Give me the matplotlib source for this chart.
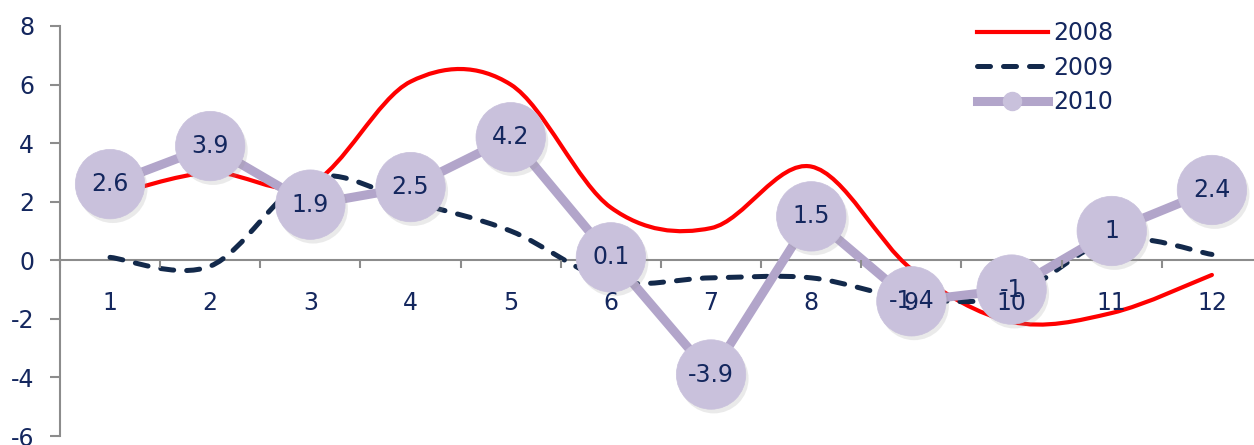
import numpy as np
import matplotlib
matplotlib.use('Agg')
import matplotlib.pyplot as plt
from matplotlib.path import Path
from matplotlib.patches import PathPatch
from matplotlib.lines import Line2D
from matplotlib.ticker import FixedLocator, NullFormatter, FixedFormatter
import matplotlib.patheffects as pe

months = [1, 2, 3, 4, 5, 6, 7, 8, 9, 10, 11, 12]
s2008 = [2.2, 3.0, 2.6, 6.1, 6.0, 1.8, 1.1, 3.2, -0.3, -2.1, -1.8, -0.5]
s2009 = [0.1, -0.2, 2.8, 2.0, 1.0, -0.7, -0.6, -0.6, -1.3, -1.2, 0.7, 0.2]
s2010 = [2.6, 3.9, 1.9, 2.5, 4.2, 0.1, -3.9, 1.5, -1.4, -1, 1, 2.4]
yticks = [-6, -4, -2, 0, 2, 4, 6, 8]

NAVY = '#14275E'
RED = '#FF0000'
DASH = '#13294B'
LAV_LINE = '#B2A5CA'
LAV_FILL = '#C9C1DC'
GRAY = '#8C8C8C'


def smooth_path(x, y):
    # excel-like smoothed line: cubic bezier through the points
    p = np.column_stack([x, y]).astype(float)
    n = len(p)
    verts = [p[0]]
    codes = [Path.MOVETO]
    for i in range(n - 1):
        p0 = p[i - 1] if i > 0 else p[i]
        p1 = p[i]
        p2 = p[i + 1]
        p3 = p[i + 2] if i + 2 < n else p[i + 1]
        verts += [p1 + (p2 - p0) / 6, p2 - (p3 - p1) / 6, p2]
        codes += [Path.CURVE4] * 3
    return Path(verts, codes)


fig = plt.figure(figsize=(12.54, 4.45), dpi=100)
ax = fig.add_axes([0.0478, 0.0202, 0.9522, 0.9214])

ax.add_patch(PathPatch(smooth_path(months, s2008), fill=False, edgecolor=RED,
                       lw=3.0, zorder=2.6, capstyle='round'))
ax.add_patch(PathPatch(smooth_path(months, s2009), fill=False, edgecolor=DASH,
                       lw=3.6, ls=(0, (2.6, 2.6)), zorder=2.7, capstyle='round'))
ax.plot(months, s2010, color=LAV_LINE, lw=6.5, zorder=2.8, solid_capstyle='butt')
ax.plot(months, s2010, ls='none', marker='o', ms=50, mfc=LAV_FILL, mec=LAV_FILL,
        mew=0.5, zorder=2.9,
        path_effects=[pe.SimplePatchShadow(offset=(2, -3), shadow_rgbFace='#9a9a9a', alpha=0.2),
                      pe.Normal()])

for m, v in zip(months, s2010):
    ax.text(m, v, f'{v:g}', ha='center', va='center', fontsize=17, color=NAVY, zorder=5)

ax.set_xlim(0.5, 12.42)
ax.set_ylim(-6, 8)

for s in ['top', 'right']:
    ax.spines[s].set_visible(False)
ax.spines['bottom'].set_position(('data', 0))
for s in ['left', 'bottom']:
    ax.spines[s].set_color(GRAY)
    ax.spines[s].set_linewidth(1.5)
    ax.spines[s].set_zorder(2.5)

ax.yaxis.set_major_locator(FixedLocator(yticks))
ax.set_yticklabels([str(t) for t in yticks])
ax.tick_params(axis='y', length=7.5, width=1.5, color=GRAY, labelsize=17,
               labelcolor=NAVY, pad=11)

ax.xaxis.set_major_locator(FixedLocator(np.arange(0.5, 12.6, 1)))
ax.xaxis.set_major_formatter(NullFormatter())
ax.xaxis.set_minor_locator(FixedLocator(months))
ax.xaxis.set_minor_formatter(FixedFormatter([str(m) for m in months]))
ax.tick_params(axis='x', which='major', length=6, width=1.5, color=GRAY, direction='out')
ax.tick_params(axis='x', which='minor', length=0, labelsize=17, labelcolor=NAVY, pad=22)
ax.xaxis.set_zorder(4)

handles = [
    Line2D([], [], color=RED, lw=3.0),
    Line2D([], [], color=DASH, lw=3.6, ls=(0, (2.6, 2.6)), dash_capstyle='round'),
    Line2D([], [], color=LAV_LINE, lw=6.5, marker='o', ms=13, mfc=LAV_FILL, mec=LAV_FILL),
]
ax.legend(handles, ['2008', '2009', '2010'], loc='upper left',
          bbox_to_anchor=(977 / 1254, 1 - 21 / 445), bbox_transform=fig.transFigure,
          frameon=False, fontsize=17, labelcolor=NAVY, handlelength=3.0,
          handletextpad=0.25, labelspacing=0.45, borderpad=0, borderaxespad=0)

fig.savefig('out.png', dpi=100)
